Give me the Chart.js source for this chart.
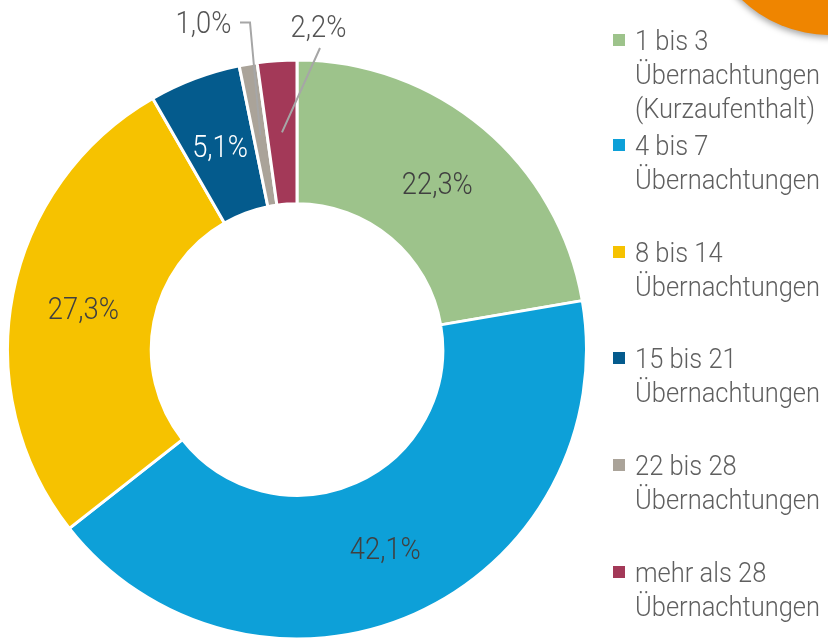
<!DOCTYPE html>
<html lang="de">
<head>
<meta charset="utf-8">
<title>Aufenthaltsdauer</title>
<script src="https://cdn.jsdelivr.net/npm/chart.js@4.4.1/dist/chart.umd.min.js"></script>
<style>
  html, body { margin: 0; padding: 0; background: #fff; }
  #wrap { position: relative; width: 828px; height: 639px; overflow: hidden; }
</style>
</head>
<body>
<div id="wrap"><canvas id="chart" width="828" height="639"></canvas></div>
<script>
// Anteil der Reisen nach Anzahl der Übernachtungen (%)
const CATEGORIES = [
  ["1 bis 3", "Übernachtungen", "(Kurzaufenthalt)"],
  ["4 bis 7", "Übernachtungen"],
  ["8 bis 14", "Übernachtungen"],
  ["15 bis 21", "Übernachtungen"],
  ["22 bis 28", "Übernachtungen"],
  ["mehr als 28", "Übernachtungen"],
];
const SHARES = [22.3, 42.1, 27.3, 5.1, 1.0, 2.2];
const COLORS = ["#9DC38B", "#0DA0D8", "#F6C200", "#045B8D", "#AAA399", "#A33958"];
const LABEL_COLORS = ["#404040", "#404040", "#404040", "#ffffff", "#555555", "#555555"];

// legend first-line baselines
const LEGEND_Y = [50, 155, 262, 368, 475, 582];

const FONT = "Roboto";
const TEXT_GREY = "#5F5F5F";
const LINE_GREY = "#A6A6A6";

const fmt = (v) => v.toFixed(1).replace(".", ",") + "%";

// draws horizontally squeezed text (reference uses a condensed face)
function drawText(ctx, text, x, y, size, color, align, sx) {
  ctx.save();
  ctx.font = `300 ${size}px ${FONT}`;
  ctx.fillStyle = color;
  ctx.textBaseline = "alphabetic";
  ctx.textAlign = align;
  ctx.translate(x, y);
  ctx.scale(sx, 1);
  ctx.fillText(text, 0, 0);
  ctx.restore();
}

function squeeze(ctx, sample, size, target) {
  ctx.save();
  ctx.font = `300 ${size}px ${FONT}`;
  const w = ctx.measureText(sample).width;
  ctx.restore();
  return target / w;
}

// ─── decorations: orange corner, labels, leader lines, legend ──────────────

const decorPlugin = {
  id: "decor",
  beforeDraw(chart) {
    const ctx = chart.ctx;
    ctx.save();
    ctx.shadowColor = "rgba(0,0,0,0.35)";
    ctx.shadowBlur = 6;
    ctx.shadowOffsetY = 3;
    ctx.fillStyle = "#EF8500";
    ctx.beginPath();
    ctx.arc(830, -93, 128, 0, Math.PI * 2);
    ctx.fill();
    ctx.restore();
  },
  afterDraw(chart) {
    const ctx = chart.ctx;
    const arcs = chart.getDatasetMeta(0).data;

    // value labels inside the big slices
    const lsx = squeeze(ctx, "27,3%", 32, 71);
    SHARES.forEach((v, i) => {
      if (v < 3) return;
      const p = arcs[i].getCenterPoint();
      drawText(ctx, fmt(v), p.x, p.y + 11, 32, LABEL_COLORS[i], "center", lsx);
    });

    // small slices: labels outside with leader lines
    const gray = arcs[4].getCenterPoint();
    const red = arcs[5].getCenterPoint();
    ctx.save();
    ctx.strokeStyle = LINE_GREY;
    ctx.lineWidth = 2;
    ctx.beginPath();
    ctx.moveTo(240, 22.5);
    ctx.lineTo(250, 22.5);
    ctx.lineTo(gray.x, gray.y);
    ctx.moveTo(320, 48);
    ctx.lineTo(red.x, red.y);
    ctx.stroke();
    ctx.restore();
    drawText(ctx, fmt(SHARES[4]), 203.5, 33, 32, LABEL_COLORS[4], "center", lsx);
    drawText(ctx, fmt(SHARES[5]), 318.5, 37, 32, LABEL_COLORS[5], "center", lsx);

    // legend
    const gsx = squeeze(ctx, "Übernachtungen", 28, 185);
    CATEGORIES.forEach((lines, i) => {
      const y0 = LEGEND_Y[i];
      ctx.fillStyle = COLORS[i];
      ctx.fillRect(613, y0 - 16, 12, 12);
      lines.forEach((t, k) => {
        drawText(ctx, t, 635, y0 + k * 34, 28, TEXT_GREY, "left", gsx);
      });
    });
  },
};

new Chart(document.getElementById("chart"), {
  type: "doughnut",
  data: {
    labels: CATEGORIES.map((l) => l.join(" ")),
    datasets: [
      {
        data: SHARES,
        backgroundColor: COLORS,
        borderColor: "#ffffff",
        borderWidth: 3,
        hoverOffset: 0,
      },
    ],
  },
  options: {
    responsive: false,
    animation: false,
    devicePixelRatio: 1,
    radius: 289.5,
    cutout: 144.5,
    layout: { padding: { left: 0, right: 234, top: 61, bottom: 1 } },
    plugins: {
      legend: { display: false },
      tooltip: { enabled: false },
    },
  },
  plugins: [decorPlugin],
});
</script>
</body>
</html>
